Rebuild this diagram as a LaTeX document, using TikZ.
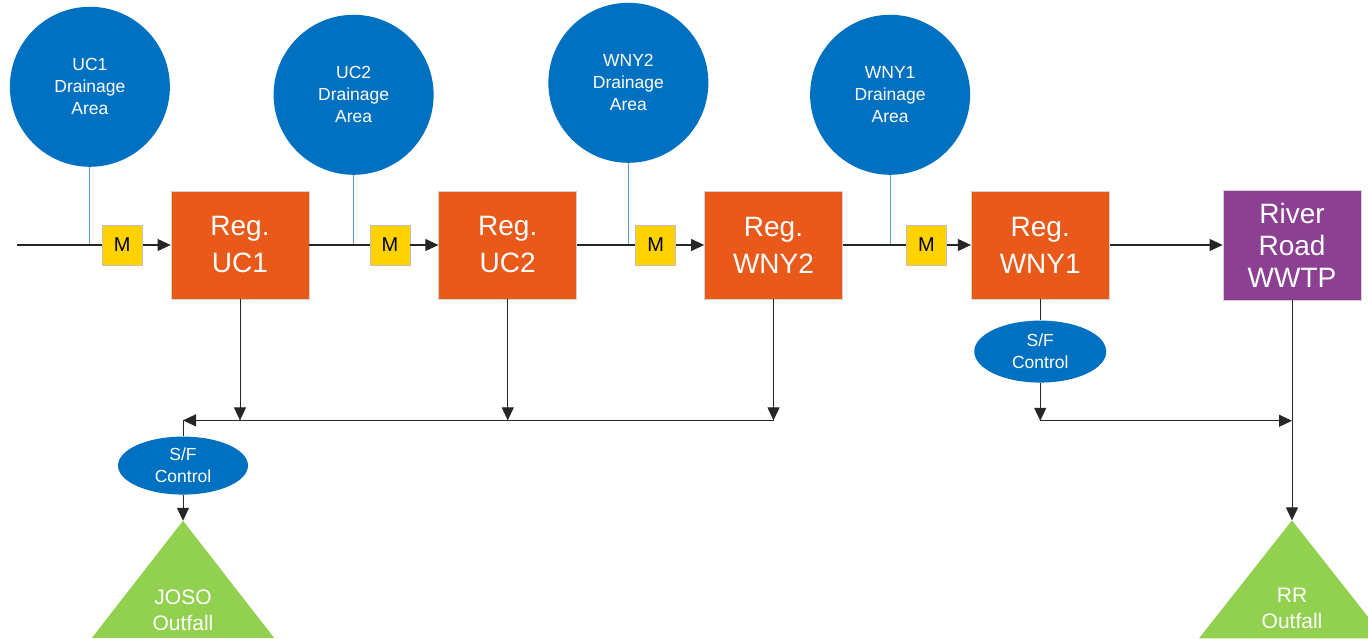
\documentclass[tikz,border=0pt]{standalone}
\usepackage{fontspec}
\setmainfont{Liberation Sans}
\usepackage{tikz}
\usetikzlibrary{shapes,arrows.meta,positioning}
\definecolor{regorange}{RGB}{232, 89, 26}
\definecolor{areablue}{RGB}{0, 112, 192}
\definecolor{feedblue}{RGB}{91, 155, 213}
\definecolor{meteryellow}{RGB}{255, 210, 0}
\definecolor{plantpurple}{RGB}{139, 64, 146}
\definecolor{outgreen}{RGB}{146, 208, 80}
\tikzstyle{reg} = [rectangle, draw=gray!35, line width=0.75pt, fill=regorange, text=white, align=center, font=\fontsize{28}{37}\selectfont, minimum width=138pt, minimum height=108pt, inner sep=0pt]
\tikzstyle{plant} = [reg, fill=plantpurple, minimum height=110pt, font=\fontsize{28}{32}\selectfont]
\tikzstyle{meter} = [rectangle, draw=gray!50, line width=0.75pt, fill=meteryellow, text=black, font=\fontsize{20}{22}\selectfont, minimum size=40pt, inner sep=0pt]
\tikzstyle{area} = [circle, fill=areablue, text=white, align=center, font=\fontsize{17.5}{22}\selectfont, minimum size=160pt, inner sep=0pt]
\tikzstyle{sf} = [ellipse, fill=areablue, text=white, align=center, font=\fontsize{17.5}{22}\selectfont, minimum width=130pt, minimum height=58pt, inner sep=0pt]
\tikzstyle{outtxt} = [text=white, align=center, font=\fontsize{21}{26}\selectfont]
\tikzstyle{tline} = [draw, line width=1pt, black!85]
\tikzstyle{tedge} = [tline, -{Triangle[length=13pt,width=12pt]}]
\tikzstyle{feed} = [draw, line width=1pt, feedblue]

\begin{document}
\begin{tikzpicture}
\useasboundingbox (0,0) rectangle (1368pt,-639pt);

% regulators =============================
\node[reg] (regA) at (240pt,-245pt) {Reg.\\UC1};
\node[reg, right=129pt of regA] (regB) {Reg.\\UC2};
\node[reg, right=127pt of regB] (regC) {Reg.\\WNY2};
\node[reg, right=128pt of regC] (regD) {Reg.\\WNY1};
\node[plant, right=113pt of regD] (wwtp) {River\\Road\\WWTP};

% meters
\node[meter, left=28pt of regA] (mA) {M};
\node[meter, left=28pt of regB] (mB) {M};
\node[meter, left=28pt of regC] (mC) {M};
\node[meter, left=24pt of regD] (mD) {M};

% drainage areas
\coordinate (inA) at (17pt,-245pt);
\coordinate[left=12pt of mA] (jA);
\coordinate[left=16pt of mB] (jB);
\coordinate[left=7pt of mC] (jC);
\coordinate[left=16pt of mD] (jD);
\node[area, above=78pt of jA] (daA) {UC1\\Drainage\\Area};
\node[area, above=70pt of jB] (daB) {UC2\\Drainage\\Area};
\node[area, above=82pt of jC] (daC) {WNY2\\Drainage\\Area};
\node[area, above=70pt of jD] (daD) {WNY1\\Drainage\\Area};

% overflow to JOSO
\coordinate[below=121pt of regA] (dA);
\coordinate[below=121pt of regB] (dB);
\coordinate[below=121pt of regC] (dC);
\coordinate[left=57pt of dA] (busL);
\node[sf, below=16pt of busL] (sfA) {S/F\\Control};
\coordinate[below=26pt of sfA] (tA);
\fill[outgreen] (tA) -- ++(-91pt,-117pt) -- ++(182pt,0) -- cycle;
\node[outtxt] (oA) at ([yshift=-89pt]tA) {JOSO\\Outfall};

% overflow to RR
\node[sf, minimum width=132pt, minimum height=62pt, below=21pt of regD] (sfB) {S/F\\Control};
\coordinate[below=38pt of sfB] (dD);
\coordinate (jR) at (wwtp |- dD);
\coordinate[below=220pt of wwtp] (tB);
\fill[outgreen] (tB) -- ++(-93pt,-118pt) -- ++(186pt,0) -- cycle;
\node[outtxt] (oB) at ([yshift=-88pt]tB) {RR\\Outfall};

%edges
\path[feed] (daA) -- (jA);
\path[feed] (daB) -- (jB);
\path[feed] (daC) -- (jC);
\path[feed] (daD) -- (jD);

\path[tline] (inA) -- (mA);
\path[tedge] (mA) -- (regA);
\path[tline] (regA) -- (mB);
\path[tedge] (mB) -- (regB);
\path[tline] (regB) -- (mC);
\path[tedge] (mC) -- (regC);
\path[tline] (regC) -- (mD);
\path[tedge] (mD) -- (regD);
\path[tedge] (regD) -- (wwtp);

\path[tedge] (regA) -- (dA);
\path[tedge] (regB) -- (dB);
\path[tedge] (regC) -- (dC);
\path[tedge] (dC) -- (busL);
\path[tline] (busL) -- (sfA);
\path[tedge] (sfA) -- (tA);

\path[tline] (regD) -- (sfB);
\path[tedge] (sfB) -- (dD);
\path[tedge] (dD) -- (jR);
\path[tedge] (wwtp) -- (tB);

\end{tikzpicture}
\end{document}
